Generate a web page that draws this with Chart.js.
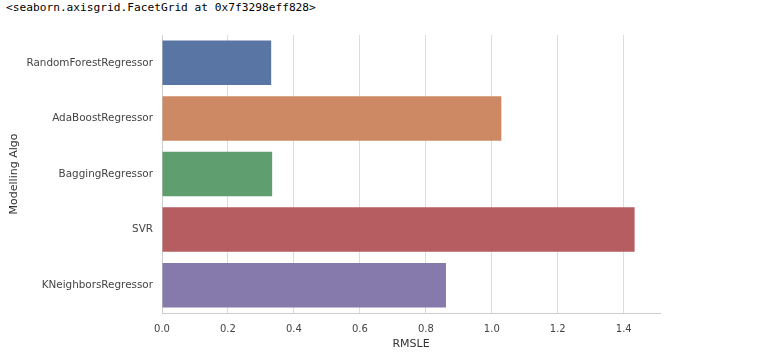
<!DOCTYPE html>
<html>
<head>
<meta charset="utf-8">
<script src="https://cdn.jsdelivr.net/npm/chart.js@4"></script>
<style>
  body { margin: 0; background: #fff; }
  #out { position: absolute; left: 6px; top: 1px; font: 11.2px "DejaVu Sans Mono", monospace; color: #000; white-space: pre; }
  #wrap { position: absolute; left: 0; top: 0; width: 775px; height: 360px; }
</style>
</head>
<body>
<div id="out">&lt;seaborn.axisgrid.FacetGrid at 0x7f3298eff828&gt;</div>
<div id="wrap"><canvas id="rmsle"></canvas></div>
<script>
// modelos y su error
var algos = ['RandomForestRegressor', 'AdaBoostRegressor', 'BaggingRegressor', 'SVR', 'KNeighborsRegressor'];
var rmsle = [0.331, 1.029, 0.334, 1.433, 0.861];
var colores = ['#5975a4', '#cc8963', '#5f9e6e', '#b55d60', '#857aab'];

document.addEventListener('DOMContentLoaded', function () {
    new Chart(document.getElementById('rmsle'), {
        type: 'bar',
        data: {
            labels: algos,
            datasets: [{
                label: 'RMSLE',
                data: rmsle,
                backgroundColor: colores,
                barPercentage: 0.8,
                categoryPercentage: 1.0
            }]
        },
        options: {
            indexAxis: 'y',
            responsive: true,
            maintainAspectRatio: false,
            animation: false,
            layout: { padding: { top: 35, right: 115, left: 8, bottom: 9 } },
            plugins: { legend: { display: false }, tooltip: { enabled: false } },
            scales: {
                x: {
                    min: 0,
                    max: 1.51,
                    afterBuildTicks: function (s) {
                        s.ticks = s.ticks.filter(function (t) { return t.value <= 1.41; });
                    },
                    afterFit: function (s) { s.height = 38; },
                    grid: { color: '#dcdcdc', lineWidth: 1, tickLength: 0 },
                    border: { display: true, color: '#cccccc', width: 1 },
                    ticks: {
                        stepSize: 0.2,
                        padding: 10,
                        color: '#444',
                        font: { family: 'DejaVu Sans', size: 10 },
                        callback: function (v) { return Number(v).toFixed(1); }
                    },
                    title: {
                        display: true, text: 'RMSLE', color: '#333',
                        font: { family: 'DejaVu Sans', size: 11 }, padding: { top: 2, bottom: 0 }
                    }
                },
                y: {
                    afterFit: function (s) { s.width = 154; },
                    grid: { display: false, tickLength: 0 },
                    border: { display: true, color: '#cccccc', width: 1 },
                    ticks: {
                        padding: 9,
                        color: '#444',
                        font: { family: 'DejaVu Sans', size: 10.4 }
                    },
                    title: {
                        display: true, text: 'Modelling Algo', color: '#333',
                        font: { family: 'DejaVu Sans', size: 11 }, padding: { top: 0, bottom: 0 }
                    }
                }
            }
        }
    });
});
</script>
</body>
</html>
